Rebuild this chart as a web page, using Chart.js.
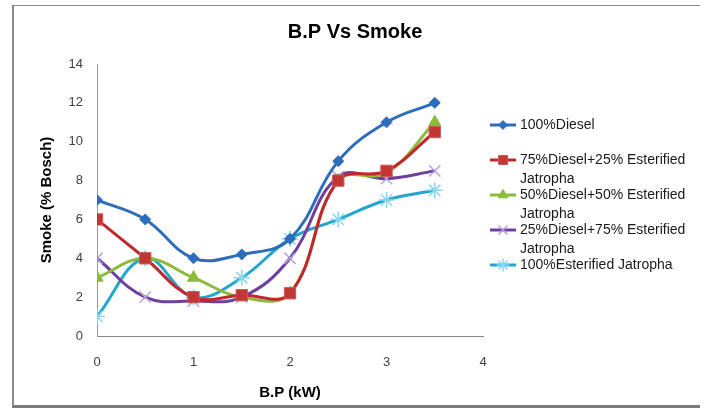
<!DOCTYPE html>
<html>
<head>
<meta charset="utf-8">
<script src="https://cdn.jsdelivr.net/npm/chart.js@4.4.0/dist/chart.umd.min.js"></script>
<style>
  html, body { margin: 0; padding: 0; background: #fff; }
  #wrap { position: relative; width: 707px; height: 409px; overflow: hidden; }
  #frame { position: absolute; left: 12px; top: 5px; width: 686px; height: 399px;
           border-left: 2px solid #8a8a8a; border-top: 1px solid #8a8a8a; border-bottom: 3px solid #7a7a7a; }
  canvas { position: absolute; left: 0; top: 0; }
</style>
</head>
<body>
<div id="wrap">
  <div id="frame"></div>
  <canvas id="canvas" width="707" height="409"></canvas>
</div>
<script>
// B.P (kW) on the x axis
var bp = [0, 0.5, 1, 1.5, 2, 2.5, 3, 3.5];

// smoke (% Bosch) for each fuel
var diesel100   = [7, 6, 4, 4.2, 5, 9, 11, 12];
var blend75     = [6, 4, 2, 2.1, 2.2, 8, 8.5, 10.5];
var blend50     = [3, 4, 3, 2, 2.2, 8, 8.4, 11];
var blend25     = [4, 2, 1.8, 2, 4, 8.2, 8.1, 8.5];
var jatropha100 = [1, 4, 2, 3, 5, 6, 7, 7.5];

var seriesNames = [
  '100%Diesel',
  '75%Diesel+25% Esterified Jatropha',
  '50%Diesel+50% Esterified Jatropha',
  '25%Diesel+75% Esterified Jatropha',
  '100%Esterified Jatropha'
];

var chartTitle = 'B.P Vs Smoke';
var xTitle = 'B.P (kW)';
var yTitle = 'Smoke (% Bosch)';

function toPoints(values){
  var pts = [];
  for( var i = 0;i<values.length;i++ ){
    pts.push({ x: bp[i], y: values[i] });
  }
  return pts;
}

function makeSet(label, values, color, style, radius, markFill, markBorder, markWidth){
  return {
    label: label,
    data: toPoints(values),
    borderColor: color,
    backgroundColor: color,
    borderWidth: 3,
    tension: 0.4,
    pointStyle: style,
    pointRadius: radius,
    pointBackgroundColor: markFill,
    pointBorderColor: markBorder,
    pointBorderWidth: markWidth,
    pointHoverRadius: radius
  };
}

var datasets = [
  makeSet(seriesNames[0], diesel100,   '#2e6dbb', 'rectRot',  5.5, '#2e6dbb', '#2e6dbb', 1),
  makeSet(seriesNames[1], blend75,     '#c0282d', 'rect',     8,   '#c33634', '#c85a58', 1),
  makeSet(seriesNames[2], blend50,     '#8cba3a', 'triangle', 7,   '#8cba3a', '#8cba3a', 1),
  makeSet(seriesNames[3], blend25,     '#6f3f9f', 'crossRot', 8,   '#b7a2d4', '#b7a2d4', 1.5),
  makeSet(seriesNames[4], jatropha100, '#22a6cd', 'star',     8,   '#86d6ee', '#86d6ee', 1.5)
];

// draws the title and the wrapped legend the way the sheet shows them
var excelText = {
  id: 'excelText',
  afterDraw: function(chart){
    var ctx = chart.ctx;
    ctx.save();
    ctx.fillStyle = '#000';
    ctx.textAlign = 'center';
    ctx.textBaseline = 'middle';
    ctx.font = 'bold 20px "Liberation Sans", Arial, sans-serif';
    ctx.fillText(chartTitle, 355, 32);

    ctx.font = '14px "Liberation Sans", Arial, sans-serif';
    ctx.textAlign = 'left';
    ctx.fillStyle = '#1a1a1a';
    var x0 = chart.chartArea.right + 7;
    var maxW = 172;
    for( var i = 0;i<chart.data.datasets.length;i++ ){
      var ds = chart.data.datasets[i];
      var y = 125 + i * 35;
      ctx.strokeStyle = ds.borderColor;
      ctx.lineWidth = 3;
      ctx.beginPath();
      ctx.moveTo(x0, y);
      ctx.lineTo(x0 + 26, y);
      ctx.stroke();
      if( Chart.helpers && Chart.helpers.drawPoint ){
        ctx.fillStyle = ds.pointBackgroundColor;
        ctx.strokeStyle = ds.pointBorderColor;
        ctx.lineWidth = ds.pointBorderWidth;
        Chart.helpers.drawPoint(ctx, { pointStyle: ds.pointStyle, radius: ds.pointRadius * 0.8, rotation: 0, borderWidth: ds.pointBorderWidth }, x0 + 13, y);
      }
      // wrap the label at word breaks
      var words = ds.label.split(' ');
      var lines = [];
      var line = '';
      for( var w = 0;w<words.length;w++ ){
        var test = line ? line + ' ' + words[w] : words[w];
        if( line && ctx.measureText(test).width > maxW ){
          lines.push(line);
          line = words[w];
        } else {
          line = test;
        }
      }
      lines.push(line);
      ctx.fillStyle = '#1a1a1a';
      for( var l = 0;l<lines.length;l++ ){
        ctx.fillText(lines[l], x0 + 30, y + l * 19);
      }
    }
    ctx.restore();
  }
};

var ctx = document.getElementById('canvas').getContext('2d');
var chart = new Chart(ctx, {
  type: 'line',
  data: { datasets: datasets },
  plugins: [excelText],
  options: {
    responsive: false,
    animation: false,
    events: [],
    layout: { padding: { left: 14, right: 224, top: 64, bottom: 0 } },
    plugins: {
      legend: { display: false },
      title: { display: false },
      tooltip: { enabled: false }
    },
    scales: {
      x: {
        type: 'linear',
        min: 0,
        max: 4,
        afterFit: function(scale){ scale.height = 73; },
        grid: { display: false, drawTicks: false },
        border: { display: true, color: '#868686', width: 1 },
        ticks: { stepSize: 1, padding: 19, color: '#404040',
                 font: { family: '"Liberation Sans", Arial, sans-serif', size: 13 } },
        title: { display: true, text: xTitle, color: '#000', padding: { top: 0, bottom: 7 },
                 font: { family: '"Liberation Sans", Arial, sans-serif', size: 15, weight: 'bold' } }
      },
      y: {
        min: 0,
        max: 14,
        afterFit: function(scale){ scale.width = 83; },
        grid: { display: false, drawTicks: false },
        border: { display: true, color: '#9a9a9a', width: 1 },
        ticks: { stepSize: 2, padding: 14, color: '#404040',
                 font: { family: '"Liberation Sans", Arial, sans-serif', size: 13 } },
        title: { display: true, text: yTitle, color: '#000', padding: { top: 24, bottom: 0 },
                 font: { family: '"Liberation Sans", Arial, sans-serif', size: 15, weight: 'bold' } }
      }
    }
  }
});
</script>
</body>
</html>
